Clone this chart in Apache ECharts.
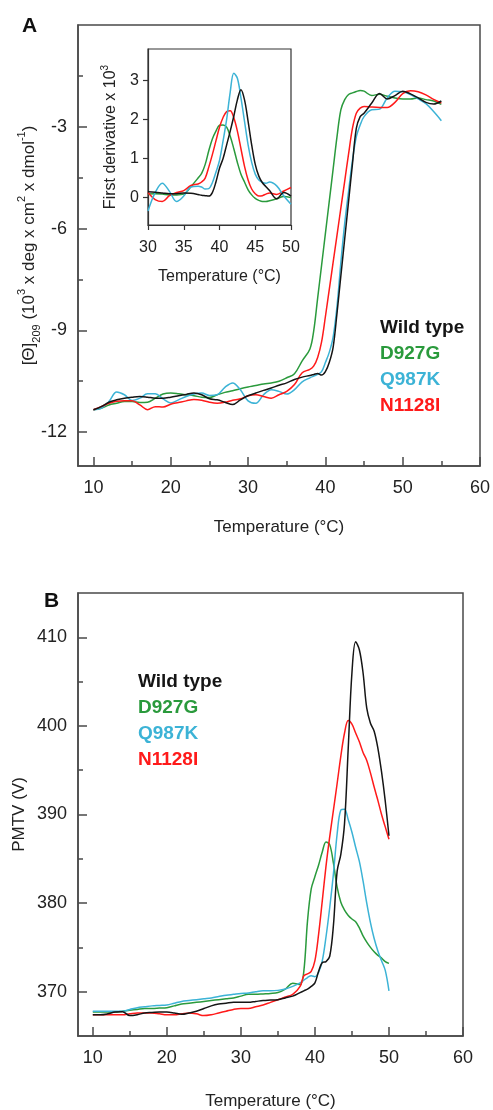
<!DOCTYPE html>
<html>
<head>
<meta charset="utf-8">
<script src="https://cdn.jsdelivr.net/npm/echarts@6/dist/echarts.min.js"></script>
<style>
html, body { margin: 0; padding: 0; background: #fff; }
#main { width: 493px; height: 1110px; }
</style>
</head>
<body>
<div id="main"></div>
<script>
var names = ['Wild type', 'D927G', 'Q987K', 'N1128I'];
var colors = ['#151515', '#2a9a3c', '#3cb3d6', '#ff1a1a'];

// panel A, CD signal vs temperature
var tempA = [10,11,12,13,14,15,16,17,18,19,20,21,22,23,24,25,26,27,28,29,30,31,32,33,34,35,36,37,38,
  38.5,39,39.5,40,40.5,41,41.5,42,42.5,43,43.5,44,44.5,45,
  46,47,48,49,50,51,52,53,54,55];
var cdWT = [-11.34,-11.25,-11.12,-11.05,-11.0,-10.97,-10.95,-10.97,-11.0,-11.0,-10.97,-10.93,-10.89,-10.85,-10.9,-11.02,-11.05,-11.12,-11.19,-11.05,-10.93,-10.85,-10.77,-10.7,-10.62,-10.55,-10.45,-10.38,-10.33,
  -10.3,-10.27,-10.32,-10.22,-9.95,-9.5,-8.5,-7.4,-6.3,-5.2,-4.1,-3.05,-2.7,-2.6,
  -2.3,-2.02,-2.18,-2.08,-1.95,-2.03,-2.15,-2.28,-2.33,-2.24];
var cdD927G = [-11.34,-11.3,-11.2,-11.15,-11.1,-11.1,-11.13,-11.12,-11.0,-10.88,-10.85,-10.87,-10.9,-10.93,-10.97,-10.98,-10.9,-10.83,-10.78,-10.72,-10.67,-10.63,-10.58,-10.55,-10.5,-10.4,-10.28,-9.9,-9.55,
  -9.0,-8.05,-7.1,-6.15,-5.2,-4.25,-3.3,-2.5,-2.2,-2.05,-2.0,-1.96,-1.93,-1.95,
  -2.08,-2.04,-2.1,-2.15,-2.18,-2.18,-2.15,-2.2,-2.24,-2.34];
var cdQ987K = [-11.34,-11.3,-11.1,-10.82,-10.9,-11.07,-11.0,-10.87,-10.87,-11.02,-11.14,-11.05,-10.95,-10.88,-10.85,-10.92,-10.9,-10.68,-10.55,-10.75,-11.08,-11.15,-10.9,-10.75,-10.8,-10.88,-10.75,-10.52,-10.4,
  -10.35,-10.3,-10.22,-9.95,-9.65,-9.2,-8.3,-7.0,-5.85,-4.9,-4.0,-3.3,-2.95,-2.7,
  -2.5,-2.48,-2.15,-1.95,-1.97,-2.05,-2.18,-2.32,-2.55,-2.82];
var cdN1128I = [-11.34,-11.25,-11.15,-11.09,-11.08,-11.08,-11.2,-11.34,-11.25,-11.26,-11.18,-11.13,-11.08,-11.04,-11.06,-11.12,-11.15,-11.12,-11.06,-11.02,-10.93,-10.9,-10.95,-11.0,-10.9,-10.8,-10.6,-10.25,-10.15,
  -10.05,-9.8,-9.35,-8.6,-7.8,-7.0,-6.2,-5.4,-4.6,-3.8,-3.05,-2.6,-2.45,-2.4,
  -2.42,-2.43,-2.43,-2.28,-2.02,-1.94,-1.97,-2.06,-2.19,-2.3];

// inset, first derivative x 10^3
var tempI = [30,31,32,33,34,35,36,37,37.5,38,38.5,39,39.5,40,40.5,41,41.5,42,42.5,43,43.5,44,44.5,45,45.5,46,46.5,47,48,49,50];
var dWT = [0.15,0.14,0.12,0.1,0.1,0.12,0.11,0.08,0.06,0.05,0.04,0.13,0.4,0.75,1.0,1.35,1.7,2.08,2.5,2.76,2.5,1.95,1.35,0.85,0.55,0.38,0.28,0.18,-0.03,0.13,0.04];
var dD927G = [0.09,0.1,0.09,0.07,0.07,0.09,0.28,0.5,0.62,0.85,1.2,1.5,1.7,1.85,1.86,1.8,1.57,1.25,0.9,0.6,0.4,0.2,0.07,-0.02,-0.07,-0.1,-0.1,-0.08,-0.03,0.03,0.0];
var dQ987K = [-0.34,0.13,0.37,0.16,-0.1,0.04,0.27,0.29,0.27,0.22,0.23,0.38,0.65,0.95,1.45,2.0,2.7,3.18,3.05,2.55,1.95,1.35,0.9,0.6,0.45,0.39,0.37,0.4,0.3,0.04,-0.17];
var dN1128I = [0.13,-0.05,-0.1,0.05,0.13,0.18,0.31,0.35,0.4,0.5,0.78,1.1,1.45,1.8,2.05,2.2,2.22,2.04,1.7,1.25,0.8,0.45,0.22,0.1,0.04,0.05,0.09,0.12,0.08,0.17,0.26];

// panel B, PMTV vs temperature
var tempB = [10,11,12,13,14,15,16,17,18,19,20,21,22,23,24,25,26,27,28,29,30,31,32,33,34,35,36,37,38,
  38.5,39,39.5,40,40.5,41,41.5,42,42.5,43,43.5,44,44.5,45,45.5,46,46.5,47,47.5,48,48.5,49,49.5,50];
var pmtvWT = [367.4,367.4,367.5,367.7,367.75,367.3,367.4,367.6,367.65,367.7,367.7,367.6,367.45,367.6,367.8,368.1,368.4,368.6,368.7,368.8,368.8,368.8,368.9,369.0,369.05,369.1,369.3,369.5,369.9,
  370.1,370.3,370.6,371.0,372.3,373.3,373.4,374.0,377.5,383.6,385.5,389.0,397.5,406.0,409.5,408.6,406.0,402.0,400.3,399.4,397.5,394.8,391.5,387.6];
var pmtvD927G = [367.7,367.7,367.7,367.7,367.8,367.9,368.0,368.1,368.1,368.15,368.2,368.4,368.6,368.7,368.8,368.9,369.0,369.1,369.2,369.3,369.5,369.7,369.7,369.75,369.8,369.9,370.3,370.95,370.8,
  372.3,378.0,381.6,383.0,384.3,385.8,386.9,386.6,384.5,381.8,380.1,379.2,378.6,378.2,377.9,377.2,376.3,375.6,375.0,374.5,374.1,373.8,373.4,373.2];
var pmtvQ987K = [367.8,367.8,367.8,367.8,367.8,368.0,368.2,368.3,368.4,368.45,368.5,368.7,368.9,369.0,369.1,369.2,369.3,369.45,369.6,369.7,369.8,369.85,370.0,370.1,370.1,370.15,370.3,370.6,371.0,
  371.3,371.6,371.8,371.7,372.2,373.5,376.2,379.5,383.3,387.8,390.5,390.6,389.4,388.0,386.3,384.7,382.5,380.0,377.8,376.0,374.6,373.5,372.4,370.1];
var pmtvN1128I = [367.4,367.4,367.4,367.4,367.4,367.5,367.6,367.6,367.6,367.5,367.4,367.4,367.5,367.6,367.5,367.3,367.4,367.6,367.8,368.0,368.1,368.1,368.3,368.5,368.8,369.1,369.4,369.7,370.6,
  371.8,372.0,372.3,373.5,376.5,380.3,384.2,387.5,390.5,393.5,396.6,399.2,400.6,400.2,399.2,398.2,397.0,396.1,394.7,393.1,391.6,390.0,388.6,387.2];

// ticks
var ticksX = [10, 20, 30, 40, 50, 60];
var minorX = [15, 25, 35, 45, 55];
var ticksAy = [-12, -9, -6, -3];
var minorAy = [-10.5, -7.5, -4.5, -1.5];
var ticksIx = [30, 35, 40, 45, 50];
var ticksIy = [0, 1, 2, 3];
var ticksBy = [370, 380, 390, 400, 410];
var minorBy = [375, 385, 395, 405];

var chart = echarts.init(document.getElementById('main'));

var axisCol = '#4a4a4a';
var font = 'Liberation Sans, Arial, Helvetica, sans-serif';

function mainX(grid, name, gap) {
    return {
        gridIndex: grid, type: 'value', min: 8, max: 60, position: 'bottom',
        axisLine: { onZero: false, lineStyle: { color: axisCol, width: 1.5 } },
        axisTick: { inside: true, length: 9, customValues: ticksX, lineStyle: { color: axisCol, width: 1.5 } },
        axisLabel: { customValues: ticksX, margin: 13, fontSize: 18, color: '#222' },
        splitLine: { show: false },
        name: name, nameLocation: 'middle', nameGap: gap,
        nameTextStyle: { fontSize: 17, color: '#222' }
    };
}
function minorAxis(grid, min, max, vals, pos) {
    return {
        gridIndex: grid, type: 'value', min: min, max: max, position: pos,
        axisLine: { show: false, onZero: false },
        axisTick: { show: true, inside: true, length: 5, customValues: vals, lineStyle: { color: axisCol, width: 1.5 } },
        axisLabel: { show: false },
        splitLine: { show: false }
    };
}
function mainY(grid, min, max, vals, name, gap) {
    return {
        gridIndex: grid, type: 'value', min: min, max: max, position: 'left',
        axisLine: { show: true, onZero: false, lineStyle: { color: axisCol, width: 1.5 } },
        axisTick: { show: true, inside: true, length: 9, customValues: vals, lineStyle: { color: axisCol, width: 1.5 } },
        axisLabel: { customValues: vals, margin: 11, fontSize: 18, color: '#222' },
        splitLine: { show: false },
        name: name, nameLocation: 'middle', nameGap: gap, nameRotate: 90, nameMoveOverlap: false,
        nameTextStyle: {
            fontSize: 17, color: '#222',
            rich: {
                t: { fontSize: 17, lineHeight: 26, color: '#222' },
                s: { fontSize: 11, verticalAlign: 'bottom', lineHeight: 26, color: '#222' },
                p: { fontSize: 11, verticalAlign: 'top', lineHeight: 18, color: '#222' }
            }
        }
    };
}

function mk(name, t, v, xi, yi) {
    var c = colors[names.indexOf(name)];
    return {
        name: name, type: 'line', xAxisIndex: xi, yAxisIndex: yi,
        data: t.map(function (x, i) { return [x, v[i]]; }),
        showSymbol: false, symbol: 'none', smooth: 0.35,
        lineStyle: { color: c, width: 1.5 }, itemStyle: { color: c },
        emphasis: { disabled: true }
    };
}

function legendAt(left, top) {
    return {
        left: left, top: top, orient: 'vertical', icon: 'none',
        itemWidth: 0, itemHeight: 0, itemGap: 0, selectedMode: false,
        textStyle: { fontSize: 19, fontWeight: 'bold', lineHeight: 26, fontFamily: font },
        data: names.map(function (n, i) { return { name: n, textStyle: { color: colors[i] } }; })
    };
}

var option = {
    animation: false,
    textStyle: { fontFamily: font },
    grid: [
        { left: 78, top: 25, width: 402, height: 441, containLabel: false, outerBoundsMode: 'none', show: true, borderColor: axisCol, borderWidth: 1.5 },
        { left: 148, top: 49, width: 143, height: 176, containLabel: false, outerBoundsMode: 'none', show: true, borderColor: '#333', borderWidth: 1.2, backgroundColor: '#fff' },
        { left: 78, top: 593, width: 385, height: 443, containLabel: false, outerBoundsMode: 'none', show: true, borderColor: axisCol, borderWidth: 1.5 }
    ],
    legend: [legendAt(370, 310), legendAt(128, 664)],
    graphic: [
        { type: 'text', left: 22, top: 16, style: { text: 'A', fontSize: 21, fontWeight: 'bold', fill: '#111', fontFamily: font } },
        { type: 'text', left: 44, top: 591, style: { text: 'B', fontSize: 21, fontWeight: 'bold', fill: '#111', fontFamily: font } }
    ],
    xAxis: [
        mainX(0, 'Temperature (°C)', 53),
        minorAxis(0, 8, 60, minorX, 'bottom'),
        {
            gridIndex: 1, type: 'value', min: 30, max: 50, interval: 5, position: 'bottom',
            axisLine: { onZero: false, lineStyle: { color: '#333', width: 1.2 } },
            axisTick: { length: 5, customValues: ticksIx, lineStyle: { color: '#333', width: 1.2 } },
            axisLabel: { customValues: ticksIx, margin: 15, fontSize: 16, color: '#222' },
            splitLine: { show: false },
            name: 'Temperature (°C)', nameLocation: 'middle', nameGap: 44,
            nameTextStyle: { fontSize: 16, color: '#222' }
        },
        mainX(2, 'Temperature (°C)', 57),
        minorAxis(2, 8, 60, minorX, 'bottom')
    ],
    yAxis: [
        mainY(0, -13, 0, ticksAy, '{t|[Θ]}{s|209}{t| (10}{p|3}{t| x deg x cm}{p|2}{t| x dmol}{p|-1}{t|)}', 36),
        minorAxis(0, -13, 0, minorAy, 'left'),
        {
            gridIndex: 1, type: 'value', min: -0.7, max: 3.8, position: 'left',
            axisLine: { show: true, onZero: false, lineStyle: { color: '#333', width: 1.2 } },
            axisTick: { show: true, length: 5, customValues: ticksIy, lineStyle: { color: '#333', width: 1.2 } },
            axisLabel: { customValues: ticksIy, margin: 9, fontSize: 16, color: '#222' },
            splitLine: { show: false },
            name: '{t|First derivative x 10}{p|3}', nameLocation: 'middle', nameGap: 26, nameRotate: 90,
            nameTextStyle: {
                fontSize: 16, color: '#222',
                rich: {
                    t: { fontSize: 16, lineHeight: 22, color: '#222' },
                    p: { fontSize: 10, verticalAlign: 'top', lineHeight: 16, color: '#222' }
                }
            }
        },
        mainY(2, 365, 415, ticksBy, '{t|PMTV (V)}', 46),
        minorAxis(2, 365, 415, minorBy, 'left')
    ],
    series: [
        mk('D927G', tempA, cdD927G, 0, 0),
        mk('Q987K', tempA, cdQ987K, 0, 0),
        mk('N1128I', tempA, cdN1128I, 0, 0),
        mk('Wild type', tempA, cdWT, 0, 0),
        mk('D927G', tempI, dD927G, 2, 2),
        mk('N1128I', tempI, dN1128I, 2, 2),
        mk('Q987K', tempI, dQ987K, 2, 2),
        mk('Wild type', tempI, dWT, 2, 2),
        mk('D927G', tempB, pmtvD927G, 3, 3),
        mk('Q987K', tempB, pmtvQ987K, 3, 3),
        mk('N1128I', tempB, pmtvN1128I, 3, 3),
        mk('Wild type', tempB, pmtvWT, 3, 3)
    ]
};

chart.setOption(option);
window.addEventListener('resize', function () { chart.resize(); });
</script>
</body>
</html>
